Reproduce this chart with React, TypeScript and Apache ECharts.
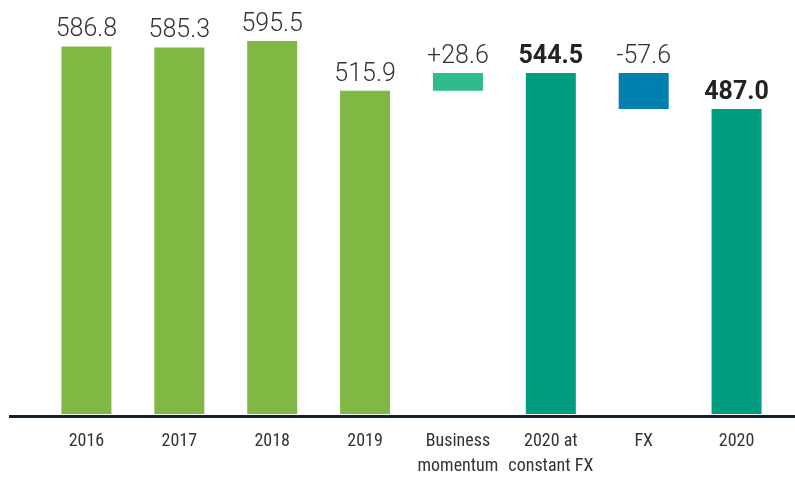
import React, { useEffect, useRef } from "react";
import * as echarts from "echarts";

const categories = ["2016", "2017", "2018", "2019", "Business\nmomentum", "2020 at\nconstant FX", "FX", "2020"];
const barValues = [586.8, 585.3, 595.5, 515.9, 28.6, 544.5, 57.6, 487.0];
const baseValues = [0, 0, 0, 0, 515.9, 0, 487.0, 0];
const labelTexts = ["586.8", "585.3", "595.5", "515.9", "+28.6", "544.5", "-57.6", "487.0"];
const boldLabel = [false, false, false, false, false, true, false, true];
const barColors = ["#80b843", "#80b843", "#80b843", "#80b843", "#2ebc8a", "#009c80", "#0080af", "#009c80"];

export default function App() {
  const ref = useRef<HTMLDivElement>(null);
  useEffect(() => {
    if (!ref.current) return;
    const chart = echarts.init(ref.current, undefined, { renderer: "svg" });
    const condensed = "'Roboto Condensed', 'Liberation Sans Narrow', 'DejaVu Sans Condensed', Roboto, sans-serif";
    chart.setOption({
      animation: false,
      grid: { left: 40, right: 12, top: 38.2, bottom: 61 },
      xAxis: {
        type: "category",
        data: categories,
        axisLine: { show: false },
        axisTick: { show: false },
        axisLabel: {
          color: "#333",
          fontFamily: condensed,
          fontSize: 18,
          lineHeight: 25,
          margin: 13,
          interval: 0,
        },
      },
      yAxis: { type: "value", min: 0, max: 600, show: false, splitLine: { show: false } },
      series: [
        {
          type: "bar",
          stack: "w",
          data: baseValues,
          barWidth: 50,
          itemStyle: { color: "transparent" },
          silent: true,
        },
        {
          type: "bar",
          stack: "w",
          barWidth: 50,
          data: barValues.map((v, i) => ({ value: v, itemStyle: { color: barColors[i] } })),
          label: {
            show: true,
            position: "top",
            distance: 6,
            formatter: (p: any) => (boldLabel[p.dataIndex] ? "{b|" + labelTexts[p.dataIndex] + "}" : "{n|" + labelTexts[p.dataIndex] + "}"),
            rich: {
              n: { fontFamily: "Roboto", fontWeight: 300, fontSize: 25, color: "#333" },
              b: { fontFamily: "Roboto", fontWeight: "bold", fontSize: 25, color: "#222" },
            },
          },
        },
      ],
      graphic: [
        {
          type: "line",
          shape: { x1: 9, y1: 416.5, x2: 795, y2: 416.5 },
          style: { stroke: "#15222f", lineWidth: 3 },
        },
      ],
    });
    return () => chart.dispose();
  }, []);
  return <div ref={ref} style={{ position: "fixed", left: 0, top: 0, width: 795, height: 477 }} />;
}
